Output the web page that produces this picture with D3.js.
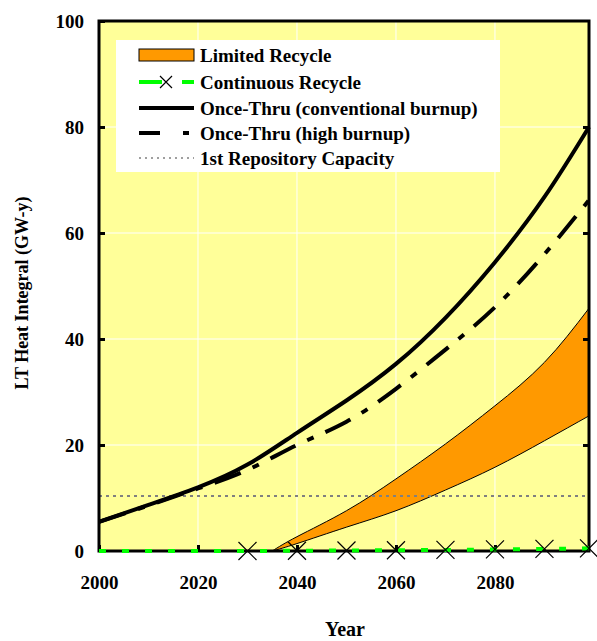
<!DOCTYPE html>
<html>
<head>
<meta charset="utf-8">
<script src="https://cdn.jsdelivr.net/npm/d3@7"></script>
<style>
  html, body { margin: 0; padding: 0; background: #ffffff; }
  svg text { font-family: "Liberation Serif", "Times New Roman", serif; font-weight: bold; fill: #000; }
</style>
</head>
<body>
<svg id="chart" width="597" height="641"></svg>
<script>
// Long-term heat integral of spent fuel by fuel-cycle strategy (GW-y)
const years = [2000, 2010, 2020, 2030, 2040, 2050, 2060, 2070, 2080, 2090, 2099];
const onceThruConventional = [5.5, 8.7, 12.0, 16.3, 22.3, 28.4, 35.3, 44.0, 54.5, 66.8, 80.0];
const onceThruHigh = [5.5, 8.6, 11.8, 15.3, 20.0, 24.4, 30.6, 38.0, 46.0, 56.0, 66.2];

const recycleYears = [2035, 2040, 2050, 2060, 2070, 2080, 2090, 2099];
const limitedUpper = [0, 2.7, 7.6, 13.6, 20.2, 27.4, 35.6, 45.8];
const limitedLower = [0, 1.4, 4.5, 7.6, 11.5, 15.8, 20.8, 25.5];

const continuousYears = [2000, 2010, 2020, 2030, 2040, 2050, 2060, 2070, 2080, 2090, 2099];
const continuousValues = [0, 0, 0, 0, 0.05, 0.1, 0.15, 0.2, 0.3, 0.4, 0.5];
const continuousMarkerYears = [2030, 2040, 2050, 2060, 2070, 2080, 2090, 2099];

const repositoryCapacity = 10.4;

const xTicks = [2000, 2020, 2040, 2060, 2080];
const yTicks = [0, 20, 40, 60, 80, 100];

const legendLabels = [
  "Limited Recycle",
  "Continuous Recycle",
  "Once-Thru (conventional burnup)",
  "Once-Thru (high burnup)",
  "1st Repository Capacity"
];

const svg = d3.select("#chart");
const plot = { left: 99, right: 589, top: 21, bottom: 551 };

const x = d3.scaleLinear().domain([2000, 2099]).range([plot.left, plot.right]);
const y = d3.scaleLinear().domain([0, 100]).range([plot.bottom, plot.top]);
const smooth = d3.curveNatural;

// plot background
svg.append("rect")
  .attr("x", plot.left).attr("y", plot.top)
  .attr("width", plot.right - plot.left).attr("height", plot.bottom - plot.top)
  .attr("fill", "#ffff99");

// white grid
const grid = svg.append("g").attr("stroke", "#ffffff").attr("stroke-width", 1);
grid.selectAll("line.v").data(xTicks.slice(1)).join("line")
  .attr("x1", d => x(d)).attr("x2", d => x(d))
  .attr("y1", plot.top).attr("y2", plot.bottom);
grid.selectAll("line.h").data(yTicks.slice(1, -1)).join("line")
  .attr("y1", d => y(d)).attr("y2", d => y(d))
  .attr("x1", plot.left).attr("x2", plot.right);

// limited recycle band
const band = d3.area()
  .x((d, i) => x(recycleYears[i]))
  .y0((d, i) => y(limitedLower[i]))
  .y1((d, i) => y(limitedUpper[i]))
  .curve(smooth);
svg.append("path")
  .datum(recycleYears)
  .attr("d", band)
  .attr("fill", "#ff9900")
  .attr("stroke", "#000")
  .attr("stroke-width", 1);

// repository capacity
svg.append("line")
  .attr("x1", plot.left).attr("x2", plot.right)
  .attr("y1", y(repositoryCapacity)).attr("y2", y(repositoryCapacity))
  .attr("stroke", "#808080").attr("stroke-width", 2)
  .attr("stroke-dasharray", "3,4");

const line = (xs, ys) => d3.line()
  .x((d, i) => x(xs[i]))
  .y((d, i) => y(ys[i]))
  .curve(smooth)(xs);

svg.append("path")
  .attr("d", line(years, onceThruHigh))
  .attr("fill", "none").attr("stroke", "#000").attr("stroke-width", 4)
  .attr("stroke-dasharray", "28,13,7,13");

svg.append("path")
  .attr("d", line(years, onceThruConventional))
  .attr("fill", "none").attr("stroke", "#000").attr("stroke-width", 4);

// axes frame
svg.append("rect")
  .attr("x", plot.left).attr("y", plot.top)
  .attr("width", plot.right - plot.left).attr("height", plot.bottom - plot.top)
  .attr("fill", "none").attr("stroke", "#000").attr("stroke-width", 3);

// inward ticks
const styleTicks = g => {
  g.select(".domain").remove();
  g.selectAll("line").attr("stroke-width", 3);
  g.selectAll("text").attr("font-size", 19).attr("font-family", "Liberation Serif")
    .attr("font-weight", "bold").attr("fill", "#000");
};
const gx = svg.append("g").attr("transform", `translate(0,${plot.bottom})`)
  .call(d3.axisBottom(x).tickValues(xTicks).tickSizeInner(-6).tickSizeOuter(0)
    .tickFormat(d3.format("d")).tickPadding(25));
styleTicks(gx);

const gy = svg.append("g").attr("transform", `translate(${plot.left},0)`)
  .call(d3.axisLeft(y).tickValues(yTicks).tickSizeInner(-6).tickSizeOuter(0).tickPadding(15));
styleTicks(gy);

const gr = svg.append("g").attr("transform", `translate(${plot.right},0)`)
  .call(d3.axisRight(y).tickValues(yTicks.slice(1, -1)).tickSizeInner(-6).tickSizeOuter(0).tickFormat(""));
styleTicks(gr);

// continuous recycle (drawn over the bottom axis)
svg.append("path")
  .attr("d", line(continuousYears, continuousValues))
  .attr("fill", "none").attr("stroke", "#00ff00").attr("stroke-width", 4)
  .attr("stroke-dasharray", "7,16");

const cross = 9;
const markerG = svg.append("g").attr("stroke", "#000").attr("stroke-width", 1.2);
continuousMarkerYears.forEach(yr => {
  const i = continuousYears.indexOf(yr);
  const v = i >= 0 ? continuousValues[i] : 0;
  const cx = x(yr), cy = y(v);
  markerG.append("path")
    .attr("d", `M${cx - cross},${cy - cross}L${cx + cross},${cy + cross}M${cx - cross},${cy + cross}L${cx + cross},${cy - cross}`);
});

// axis titles
svg.append("text")
  .attr("x", 345).attr("y", 636)
  .attr("text-anchor", "middle").attr("font-size", 20)
  .text("Year");
svg.append("text")
  .attr("transform", `translate(28,293) rotate(-90)`)
  .attr("text-anchor", "middle").attr("font-size", 18)
  .text("LT Heat Integral (GW-y)");

// legend
const lg = svg.append("g");
lg.append("rect").attr("x", 116).attr("y", 40).attr("width", 384).attr("height", 132).attr("fill", "#ffffff");
const rowY = [55, 82, 108, 133, 158];
const sx0 = 139, sx1 = 194;
lg.selectAll("text").data(legendLabels).join("text")
  .attr("x", 200).attr("y", (d, i) => rowY[i] + 6.5)
  .attr("font-size", 19)
  .text(d => d);

lg.append("rect").attr("x", sx0).attr("y", rowY[0] - 6).attr("width", sx1 - sx0).attr("height", 12)
  .attr("fill", "#ff9900").attr("stroke", "#000").attr("stroke-width", 1);

lg.append("line").attr("x1", sx0).attr("x2", 162).attr("y1", rowY[1]).attr("y2", rowY[1])
  .attr("stroke", "#00ff00").attr("stroke-width", 4);
lg.append("line").attr("x1", 182).attr("x2", sx1).attr("y1", rowY[1]).attr("y2", rowY[1])
  .attr("stroke", "#00ff00").attr("stroke-width", 4);
lg.append("path")
  .attr("d", `M${166 - 6},${rowY[1] - 6}L${166 + 6},${rowY[1] + 6}M${166 - 6},${rowY[1] + 6}L${166 + 6},${rowY[1] - 6}`)
  .attr("stroke", "#000").attr("stroke-width", 1.2);

lg.append("line").attr("x1", sx0).attr("x2", sx1).attr("y1", rowY[2]).attr("y2", rowY[2])
  .attr("stroke", "#000").attr("stroke-width", 4);
lg.append("line").attr("x1", sx0).attr("x2", 160).attr("y1", rowY[3]).attr("y2", rowY[3])
  .attr("stroke", "#000").attr("stroke-width", 4);
lg.append("line").attr("x1", 183).attr("x2", 189).attr("y1", rowY[3]).attr("y2", rowY[3])
  .attr("stroke", "#000").attr("stroke-width", 4);
lg.append("line").attr("x1", sx0).attr("x2", sx1).attr("y1", rowY[4]).attr("y2", rowY[4])
  .attr("stroke", "#808080").attr("stroke-width", 1.5).attr("stroke-dasharray", "2,4");
</script>
</body>
</html>
